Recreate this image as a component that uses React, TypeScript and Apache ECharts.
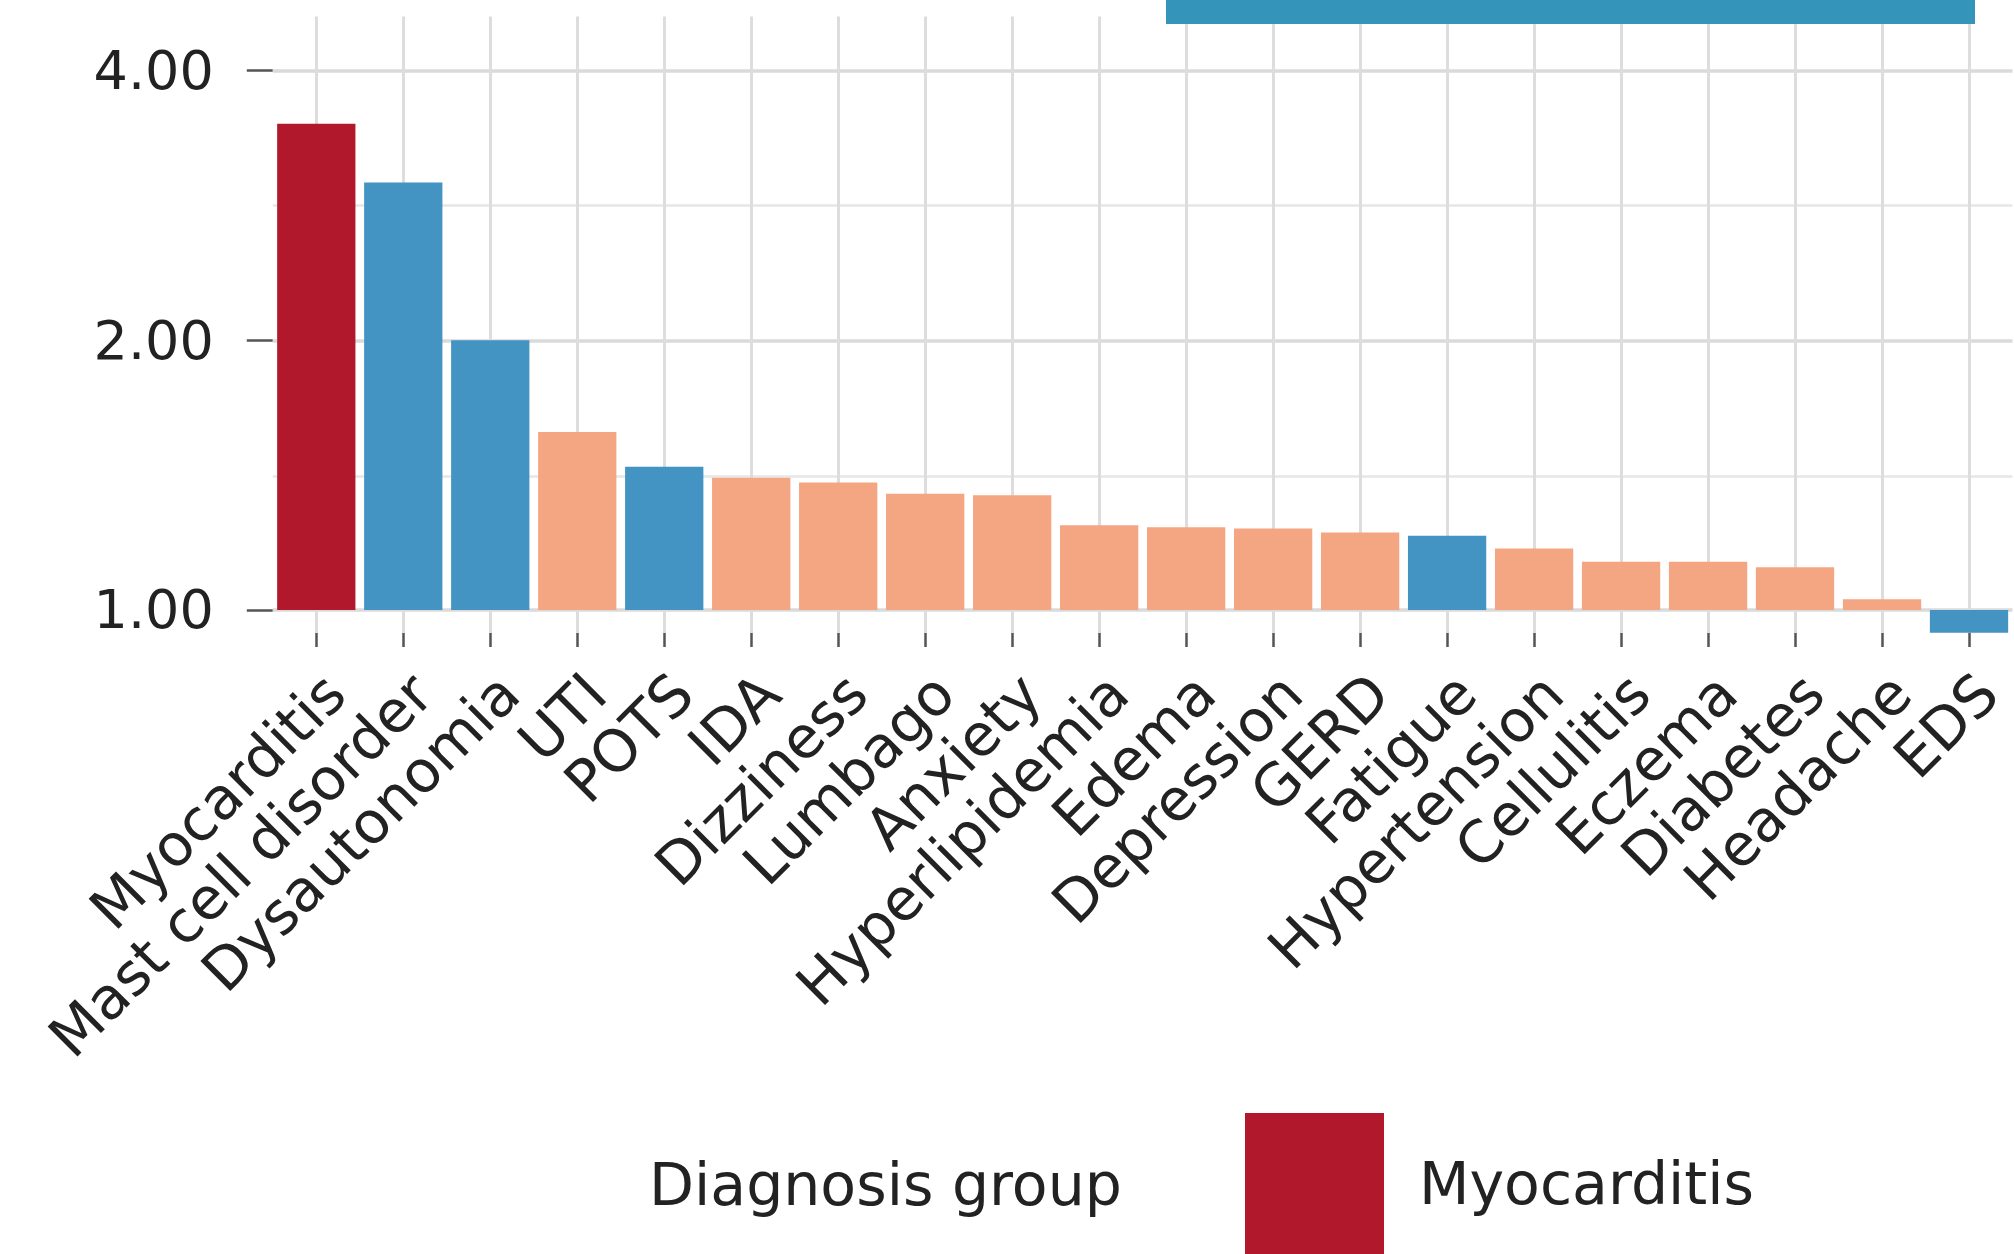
import React, { useEffect, useRef } from 'react';
import * as echarts from 'echarts';

// ---- data ----
const categories = [
  'Myocarditis', 'Mast cell disorder', 'Dysautonomia', 'UTI', 'POTS', 'IDA',
  'Dizziness', 'Lumbago', 'Anxiety', 'Hyperlipidemia', 'Edema', 'Depression',
  'GERD', 'Fatigue', 'Hypertension', 'Cellulitis', 'Eczema', 'Diabetes',
  'Headache', 'EDS',
];
const values = [
  3.49, 3.0, 2.0, 1.58, 1.445, 1.405,
  1.388, 1.348, 1.343, 1.243, 1.237, 1.233,
  1.22, 1.21, 1.171, 1.132, 1.132, 1.116,
  1.028, 0.943,
];
const groupNames = ['Myocarditis', 'Dysautonomia-related', 'Other'];
const groupOf = [
  'Myocarditis', 'Dysautonomia-related', 'Dysautonomia-related', 'Other', 'Dysautonomia-related', 'Other',
  'Other', 'Other', 'Other', 'Other', 'Other', 'Other',
  'Other', 'Dysautonomia-related', 'Other', 'Other', 'Other', 'Other',
  'Other', 'Dysautonomia-related',
];
const groupColors = ['#B2182B', '#4393C3', '#F4A582'];
const yTickValues = [1, 2, 4];
const yMinorBreaks = [1.414, 2.828];
const yRange = [0.9426, 4.595];
const legendTitle = 'Diagnosis group';
const legendShown = ['Myocarditis'];

const FONT = 'DejaVu Sans';
const TEXT = '#222222';

export default function App() {
  const ref = useRef<HTMLDivElement>(null);

  useEffect(() => {
    const chart = echarts.init(ref.current as HTMLDivElement, null, { renderer: 'svg' });

    const majorGrid = { color: '#DADADA', width: 3.5, type: 'solid' };
    const minorGrid = { color: '#E6E6E6', width: 2.5, type: 'solid' };
    const vertGrid = { color: '#DDDDDD', width: 3, type: 'solid' };

    const gridLines = [
      ...yTickValues.map((v) => ({ yAxis: v, lineStyle: majorGrid })),
      ...yMinorBreaks.map((v) => ({ yAxis: v, lineStyle: minorGrid })),
      ...categories.map((c) => ({ xAxis: c, lineStyle: vertGrid })),
    ];

    const series = groupNames.map((g, gi) => {
      const s: any = {
        name: g,
        type: 'bar',
        barWidth: '90%',
        barGap: '-100%',
        z: 2,
        itemStyle: { color: groupColors[gi] },
        data: values.map((v, i) => (groupOf[i] === g ? v : '-')),
      };
      if (gi === 0) {
        s.markLine = {
          z: 1,
          silent: true,
          symbol: 'none',
          label: { show: false },
          animation: false,
          data: gridLines,
        };
      }
      return s;
    });

    chart.setOption({
      animation: false,
      backgroundColor: '#ffffff',
      grid: {
        left: 272.8,
        right: 1.5,
        top: 16.6,
        bottom: 621,
        containLabel: false,
        outerBoundsMode: 'none',
      },
      xAxis: {
        type: 'category',
        data: categories,
        axisLine: { show: false },
        splitLine: { show: false },
        axisTick: {
          show: true,
          alignWithLabel: true,
          length: 14,
          lineStyle: { color: '#555555', width: 2.5 },
        },
        axisLabel: {
          interval: 0,
          rotate: 45,
          margin: 32,
          fontSize: 58,
          lineHeight: 53,
          align: 'right',
          verticalAlign: 'top',
          fontFamily: FONT,
          color: TEXT,
        },
      },
      yAxis: {
        type: 'log',
        logBase: 2,
        min: yRange[0],
        max: yRange[1],
        axisLine: { show: false },
        splitLine: { show: false },
        minorSplitLine: { show: false },
        axisTick: {
          show: true,
          customValues: yTickValues,
          length: 26,
          lineStyle: { color: '#555555', width: 2.5 },
        },
        axisLabel: {
          customValues: yTickValues,
          formatter: (v: number) => Number(v).toFixed(2),
          fontSize: 54,
          fontFamily: FONT,
          color: TEXT,
          margin: 59,
        },
      },
      legend: {
        data: legendShown,
        left: 1245,
        top: 1113,
        padding: 0,
        icon: 'rect',
        itemWidth: 139,
        itemHeight: 141,
        selectedMode: false,
        textStyle: {
          fontSize: 58.5,
          fontFamily: FONT,
          color: TEXT,
          padding: [0, 0, 0, 30],
        },
      },
      graphic: [
        {
          type: 'text',
          x: 649,
          y: 1185,
          style: {
            text: legendTitle,
            fontSize: 58.5,
            fontFamily: FONT,
            fill: TEXT,
            verticalAlign: 'middle',
            textVerticalAlign: 'middle',
          },
        },
        {
          type: 'rect',
          shape: { x: 1166, y: 0, width: 809, height: 24 },
          style: { fill: '#3594BA' },
          z: 10,
        },
      ],
      series,
    });

    return () => {
      chart.dispose();
    };
  }, []);

  return (
    <div
      ref={ref}
      style={{ position: 'fixed', left: 0, top: 0, width: 2014, height: 1254, background: '#fff' }}
    />
  );
}
